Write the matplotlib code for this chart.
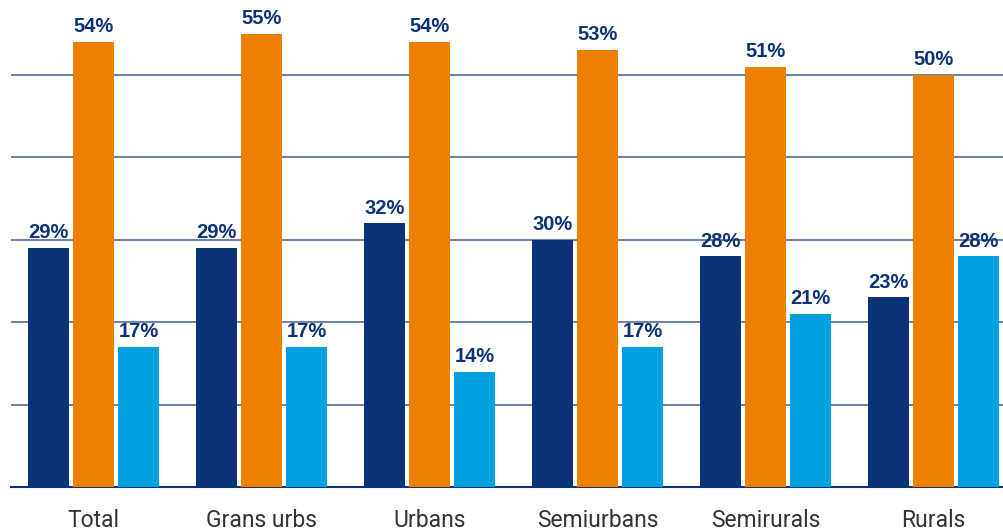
import matplotlib.pyplot as plt
import numpy as np

categories = ['Total', 'Grans urbs', 'Urbans', 'Semiurbans', 'Semirurals', 'Rurals']
serie_fosc = [29, 29, 32, 30, 28, 23]
serie_taronja = [54, 55, 54, 53, 51, 50]
serie_clar = [17, 17, 14, 17, 21, 28]

colors = ['#0b3277', '#ef7f00', '#009fe0']
text_color = '#0b3277'

fig = plt.figure(figsize=(10.04, 5.32), dpi=100)
ax = fig.add_axes([11 / 1004, 45 / 532, 993 / 1004, 487 / 532])

x = np.arange(len(categories))
w = 41 / 168
step = 45 / 168
for i, vals in enumerate([serie_fosc, serie_taronja, serie_clar]):
    pos = x + (i - 1) * step
    ax.bar(pos, vals, w, color=colors[i], zorder=3)
    for p, v in zip(pos, vals):
        ax.text(p, v + 0.7, '%d%%' % v, ha='center', va='bottom',
                fontsize=14.5, fontweight='bold', color=text_color,
                family=['Liberation Sans', 'DejaVu Sans'], zorder=4)

ax.set_xlim(-0.491, 5.42)
ax.set_ylim(0, 59.1)
ax.set_yticks([10, 20, 30, 40, 50])
ax.yaxis.grid(True, color='#3f5f99', linewidth=1.1, zorder=0)
ax.tick_params(axis='y', left=False, labelleft=False)
ax.set_xticks(x)
ax.set_xticklabels(categories, fontsize=16.5, color='#333333', family='Roboto')
ax.tick_params(axis='x', length=0, pad=16)
for s in ['top', 'right', 'left']:
    ax.spines[s].set_visible(False)
ax.spines['bottom'].set_color('#0b3277')
ax.spines['bottom'].set_linewidth(1.5)

fig.savefig('out.png', dpi=100)
